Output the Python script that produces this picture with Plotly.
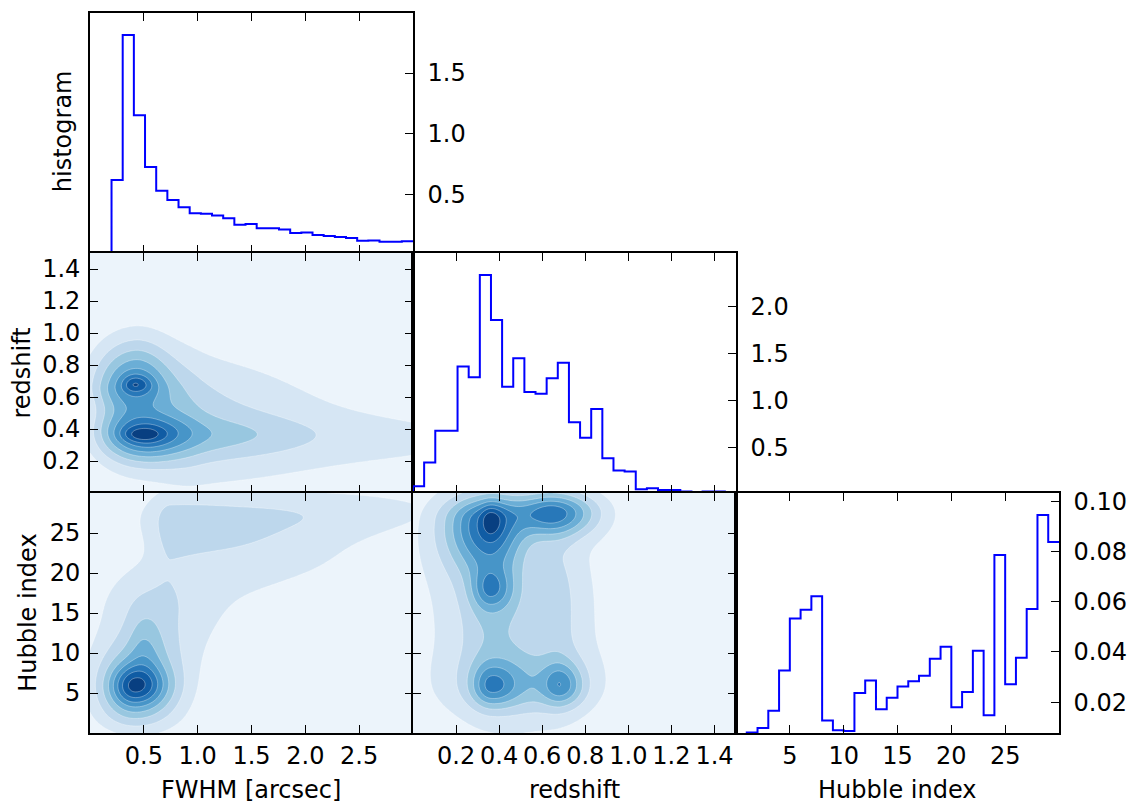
import numpy as np
import plotly.graph_objects as go

# ---------------- data ----------------
# 1-D histograms (density), equal-width bins between lo and hi
fwhm_hist_lo, fwhm_hist_hi = 0.2, 3.0
fwhm_hist = [0.617, 1.814, 1.152, 0.726, 0.530, 0.453, 0.393, 0.344, 0.339,
             0.325, 0.303, 0.248, 0.256, 0.221, 0.221, 0.210, 0.180, 0.185,
             0.164, 0.156, 0.148, 0.139, 0.117, 0.120, 0.109, 0.109, 0.112]

z_hist_lo, z_hist_hi = 0.0, 1.5
z_hist = [0.084, 0.338, 0.677, 0.677, 1.362, 1.249, 2.340, 1.860, 1.146,
          1.450, 1.090, 1.072, 1.238, 1.404, 0.769, 0.603, 0.910, 0.383,
          0.253, 0.243, 0.052, 0.063, 0.045, 0.045, 0.028, 0.005, 0.028,
          0.028, 0.013]

hub_hist_lo, hub_hist_hi = 1.0, 30.0
hub_hist = [0.0079, 0.0097, 0.0166, 0.0326, 0.0533, 0.0568, 0.0622, 0.0127,
            0.0088, 0.0085, 0.0236, 0.0286, 0.0172, 0.0217, 0.0262, 0.0283,
            0.0305, 0.0373, 0.0421, 0.0180, 0.0240, 0.0405, 0.0148, 0.0786,
            0.0271, 0.0377, 0.0571, 0.0945, 0.0838]

# 2-D density blobs (split-normal components) estimated from the contour maps
# FWHM vs redshift
fz_cx  = [0.45, 0.42, 0.42, 0.50, 0.48, 0.60, 1.00, 3.00, 0.20]
fz_cy  = [0.52, 0.68, 0.68, 0.365, 0.365, 0.36, 0.46, 0.33, 0.50]
fz_sxl = [0.25, 0.28, 0.08, 0.28, 0.12, 0.30, 0.30, 1.20, 0.15]
fz_sxr = [0.35, 0.22, 0.10, 0.25, 0.13, 1.00, 0.80, 1.20, 0.20]
fz_syd = [0.25, 0.10, 0.035, 0.12, 0.030, 0.09, 0.30, 0.20, 0.20]
fz_syu = [0.25, 0.20, 0.040, 0.10, 0.030, 0.08, 0.30, 0.20, 0.20]
fz_amp = [2.5, 3.5, 2.0, 3.2, 1.4, 1.6, 2.0, 1.0, 0.8]

# FWHM vs Hubble index
fh_cx  = [0.41, 0.42, 0.50, 0.55, 0.75, 0.60, 2.30, 1.00, 1.80, 0.40]
fh_cy  = [5.9, 6.5, 11.0, 15.0, 26.0, 27.0, 28.0, 15.0, 22.0, 2.5]
fh_sxl = [0.15, 0.28, 0.10, 0.35, 0.12, 0.30, 0.80, 0.50, 0.60, 0.25]
fh_sxr = [0.20, 0.30, 0.12, 0.30, 0.90, 0.60, 1.00, 0.50, 0.80, 0.30]
fh_syd = [1.8, 3.0, 3.0, 8.0, 4.5, 3.0, 2.5, 5.0, 4.0, 2.0]
fh_syu = [1.8, 3.5, 3.0, 4.5, 3.0, 3.0, 2.0, 5.0, 4.0, 2.5]
fh_amp = [3.9, 3.0, 1.2, 1.6, 1.5, 0.8, 1.2, 0.8, 0.8, 1.5]

# redshift vs Hubble index
zh_cx  = [0.36, 0.36, 0.30, 0.65, 0.36, 0.36, 0.36, 0.69, 0.52, 0.50, 0.68]
zh_cy  = [26.7, 26.7, 25.0, 27.5, 18.0, 16.0, 5.8, 5.9, 6.0, 15.0, 16.0]
zh_sxl = [0.14, 0.03, 0.15, 0.12, 0.06, 0.10, 0.06, 0.06, 0.22, 0.35, 0.06]
zh_sxr = [0.10, 0.04, 0.15, 0.14, 0.07, 0.12, 0.08, 0.07, 0.20, 0.30, 0.07]
zh_syd = [4.0, 1.5, 4.0, 2.0, 1.8, 7.0, 1.8, 1.8, 2.5, 12.0, 7.0]
zh_syu = [2.0, 1.5, 4.0, 1.8, 1.8, 6.0, 2.0, 2.0, 3.0, 12.0, 7.0]
zh_amp = [4.5, 1.5, 1.5, 5.5, 2.8, 1.5, 3.0, 3.0, 2.2, 1.8, 0.9]

fwhm_ticks = [0.5, 1.0, 1.5, 2.0, 2.5]
z_ticks = [0.2, 0.4, 0.6, 0.8, 1.0, 1.2, 1.4]
hub_ticks = [5, 10, 15, 20, 25]
fwhm_hist_ticks = [0.5, 1.0, 1.5]
z_hist_ticks = [0.5, 1.0, 1.5, 2.0]
hub_hist_ticks = [0.02, 0.04, 0.06, 0.08, 0.10]

# ---------------- helpers ----------------
FONT = dict(family="DejaVu Sans", size=24, color="black")
BLUES = [(0.0, (247, 251, 255)), (0.125, (222, 235, 247)), (0.25, (198, 219, 239)),
         (0.375, (158, 202, 225)), (0.5, (107, 174, 214)), (0.625, (66, 146, 198)),
         (0.75, (33, 113, 181)), (0.875, (8, 81, 156)), (1.0, (8, 48, 107))]
NBANDS = 9


def blues(t):
    for (t0, c0), (t1, c1) in zip(BLUES[:-1], BLUES[1:]):
        if t <= t1:
            f = (t - t0) / (t1 - t0)
            return "rgb(%d,%d,%d)" % tuple(round(a + (b - a) * f) for a, b in zip(c0, c1))
    return "rgb(8,48,107)"


band_cols = [blues((k + 0.5) / NBANDS) for k in range(NBANDS)]
cscale = [[k / (NBANDS - 1), band_cols[k]] for k in range(NBANDS)]


def mixture(xs, ys, cx, cy, sxl, sxr, syd, syu, amp):
    X, Y = np.meshgrid(xs, ys)
    Z = np.zeros_like(X)
    for i in range(len(cx)):
        dx = X - cx[i]
        dy = Y - cy[i]
        sx = np.where(dx < 0, sxl[i], sxr[i])
        sy = np.where(dy < 0, syd[i], syu[i])
        Z += amp[i] * np.exp(-0.5 * ((dx / sx) ** 2 + (dy / sy) ** 2))
    return Z


def contour(xs, ys, Z, xa, ya):
    return go.Contour(x=xs, y=ys, z=Z, xaxis=xa, yaxis=ya, autocontour=False,
                      contours=dict(start=1, end=NBANDS - 1, size=1, coloring="fill"),
                      colorscale=cscale, showscale=False, hoverinfo="skip",
                      line=dict(width=0.6, color="rgba(255,255,255,0.55)", smoothing=1.0))


def step(lo, hi, vals, xa, ya):
    n = len(vals)
    edges = [lo + (hi - lo) * i / n for i in range(n + 1)]
    x = [edges[0]] + edges
    y = [0] + list(vals) + [vals[-1]]
    return go.Scatter(x=x, y=y, mode="lines", line=dict(color="#0000ff", width=2, shape="hv"),
                      xaxis=xa, yaxis=ya, hoverinfo="skip", showlegend=False)


fwhm_g = np.linspace(0, 3, 151)
z_g = np.linspace(0, 1.5, 151)
hub_g = np.linspace(0, 30, 151)

fig = go.Figure()
fig.add_trace(step(fwhm_hist_lo, fwhm_hist_hi, fwhm_hist, "x", "y"))
fig.add_trace(contour(fwhm_g, z_g, mixture(fwhm_g, z_g, fz_cx, fz_cy, fz_sxl, fz_sxr, fz_syd, fz_syu, fz_amp), "x2", "y2"))
fig.add_trace(contour(fwhm_g, hub_g, mixture(fwhm_g, hub_g, fh_cx, fh_cy, fh_sxl, fh_sxr, fh_syd, fh_syu, fh_amp), "x3", "y3"))
fig.add_trace(step(z_hist_lo, z_hist_hi, z_hist, "x4", "y4"))
fig.add_trace(contour(z_g, hub_g, mixture(z_g, hub_g, zh_cx, zh_cy, zh_sxl, zh_sxr, zh_syd, zh_syu, zh_amp), "x5", "y5"))
fig.add_trace(step(hub_hist_lo, hub_hist_hi, hub_hist, "x6", "y6"))


def ax(dom, rng, ticks, labels, fmt, **kw):
    d = dict(domain=dom, range=rng, showline=True, linecolor="black", linewidth=1.6,
             ticks="inside", ticklen=8, tickwidth=1.2, tickcolor="black",
             showgrid=False, zeroline=False, tickfont=FONT, tickvals=ticks,
             ticktext=[fmt % t for t in ticks], showticklabels=labels, mirror="ticks",
             fixedrange=True)
    d.update(kw)
    return d


c = [[0, 1 / 3], [1 / 3, 2 / 3], [2 / 3, 1]]
r = [[2 / 3, 1], [1 / 3, 2 / 3], [0, 1 / 3]]
XSO = 0

layout = dict(
    width=1147, height=804, autosize=False,
    margin=dict(l=90, r=88, t=8, b=71, pad=0),
    paper_bgcolor="white", plot_bgcolor="white", showlegend=False,
    font=FONT,
    xaxis=ax(c[0], [0, 3], fwhm_ticks, False, "%.1f", anchor="y"),
    yaxis=ax(r[0], [0.016, 1.995], fwhm_hist_ticks, True, "%.1f", anchor="x", side="right", mirror=True,
             ticklabelstandoff=8),
    xaxis2=ax(c[0], [0, 3], fwhm_ticks, False, "%.1f", anchor="y2"),
    yaxis2=ax(r[1], [0, 1.5], z_ticks, True, "%.1f", anchor="x2", ticklabelstandoff=3),
    xaxis3=ax(c[0], [0, 3], fwhm_ticks, True, "%.1f", anchor="y3", ticklabelstandoff=XSO),
    yaxis3=ax(r[2], [0, 30], hub_ticks, True, "%d", anchor="x3", ticklabelstandoff=3),
    xaxis4=ax(c[1], [0, 1.5], z_ticks, False, "%.1f", anchor="y4"),
    yaxis4=ax(r[1], [0.013, 2.574], z_hist_ticks, True, "%.1f", anchor="x4", side="right", mirror=True,
              ticklabelstandoff=8),
    xaxis5=ax(c[1], [0, 1.5], z_ticks, True, "%.1f", anchor="y5", ticklabelstandoff=XSO),
    yaxis5=ax(r[2], [0, 30], hub_ticks, False, "%d", anchor="x5"),
    xaxis6=ax(c[2], [0, 30], hub_ticks, True, "%d", anchor="y6", ticklabelstandoff=XSO),
    yaxis6=ax(r[2], [0.0077, 0.1033], hub_hist_ticks, True, "%.2f", anchor="x6", side="right", mirror=True,
              ticklabelstandoff=8),
)


def px_x(p):
    return (p - 90) / 969.0


def px_y(p):
    return (733 - p) / 725.0


annos = [
    dict(text="histogram", x=px_x(63), y=px_y(127), textangle=-90),
    dict(text="redshift", x=px_x(22), y=px_y(371), textangle=-90),
    dict(text="Hubble index", x=px_x(28), y=px_y(612), textangle=-90),
    dict(text="FWHM [arcsec]", x=px_x(251), y=px_y(790), textangle=0),
    dict(text="redshift", x=px_x(574), y=px_y(790), textangle=0),
    dict(text="Hubble index", x=px_x(897), y=px_y(790), textangle=0),
]
layout["annotations"] = [dict(a, xref="paper", yref="paper", showarrow=False, font=FONT,
                              xanchor="center", yanchor="middle") for a in annos]
fig.update_layout(**layout)
fig.write_html("out.html")
